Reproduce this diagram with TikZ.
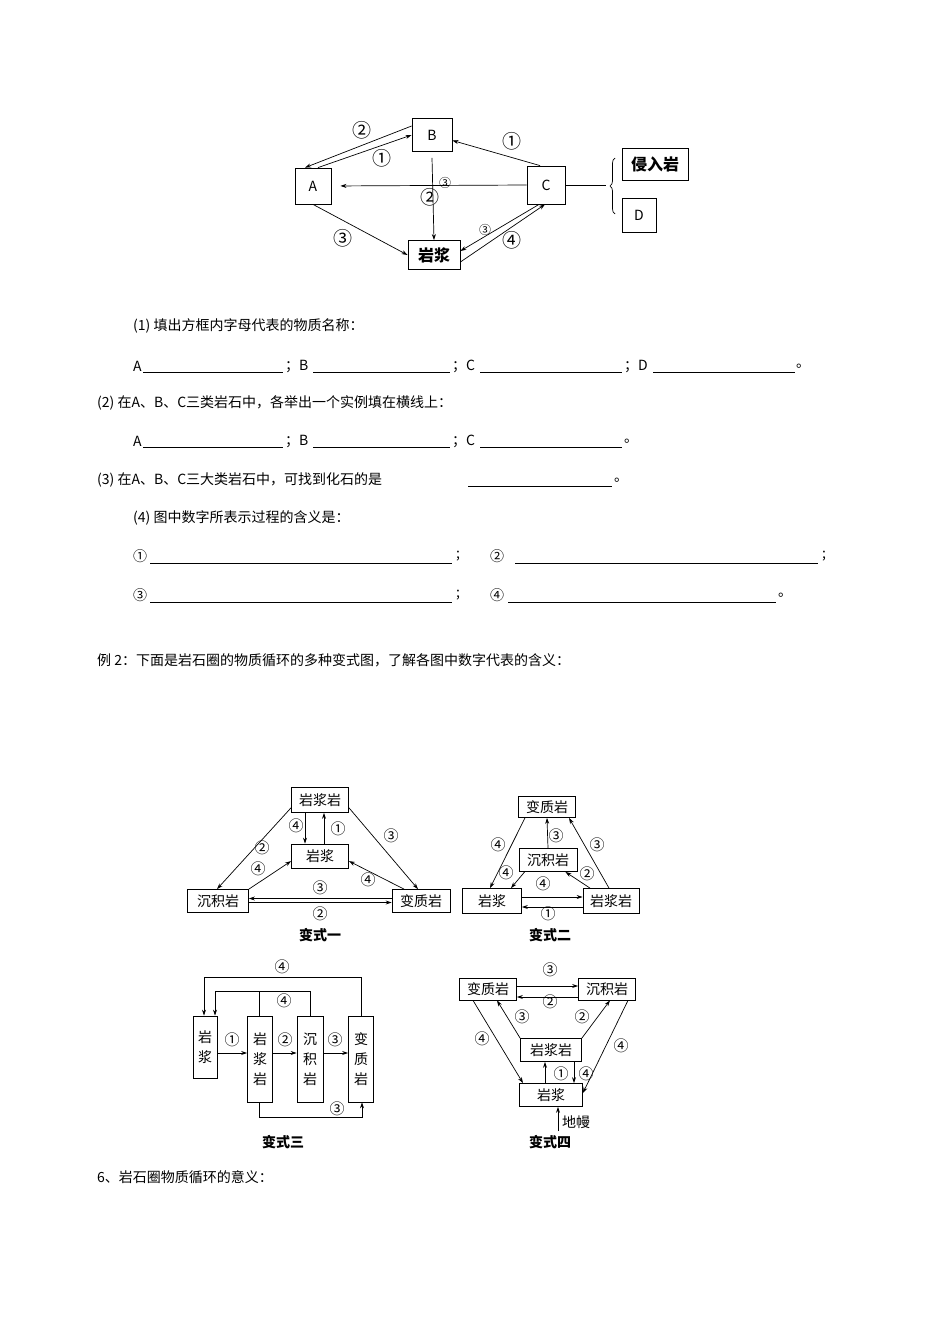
\documentclass[tikz,border=0pt]{standalone}
\usepackage{fontspec}
\setmainfont{Noto Sans CJK SC}
\usetikzlibrary{arrows.meta,decorations.pathreplacing}
\begin{document}
\begin{tikzpicture}[x=1pt,y=-1pt,
  box/.style={draw,line width=0.8pt,inner sep=0pt,font=\fontsize{14}{14}\selectfont},
  arr/.style={-{Stealth[length=6pt,width=4pt]},line width=0.7pt},
  lbl/.style={inner sep=0pt,font=\fontsize{15}{15}\selectfont},
  txt/.style={anchor=west,inner sep=0pt,font=\fontsize{14}{14}\selectfont},
  ul/.style={line width=0.6pt}]
\useasboundingbox (0,0) rectangle (950,1317);
% ---------- top diagram
\node[box,minimum width=40,minimum height=33] (B) at (432,135) {B};
\node[box,minimum width=36,minimum height=36] (A) at (313,186) {A};
\node[box,minimum width=38,minimum height=38] (C) at (546,185) {C};
\node[box,minimum width=52,minimum height=29,font=\fontsize{16}{16}\selectfont\bfseries] (M) at (434,255) {岩浆};
\node[box,minimum width=66,minimum height=32,font=\fontsize{16}{16}\selectfont\bfseries] (Q) at (655,164) {侵入岩};
\node[box,minimum width=34,minimum height=34] (D) at (639,215) {D};
\coordinate (br) at (606,185);
\draw[arr] ([xshift=-6]C.north) -- (B.-15);
\draw[arr] ([yshift=9]B.west) -- ([xshift=-8]A.north);
\draw[arr] ([xshift=5]A.north) -- (B.west);
\draw[arr,shorten >=9pt] (C.west) -- (A.east);
\draw[arr] ([yshift=-6]B.south) -- (M.north);
\draw[arr] (A.south) -- (M.west);
\draw[arr] ([yshift=-7]M.east) -- ([xshift=-1]C.south);
\draw[arr] ([xshift=-7]C.south) -- ([yshift=4]M.east);
\draw[line width=0.7pt] (C.east) -- (br);
\draw[line width=0.7pt,decorate,decoration={brace,amplitude=5pt}] (615,214) -- (615,158);
\node[lbl,font=\fontsize{19}{19}\selectfont] at (362,130) {②};
\node[lbl,font=\fontsize{19}{19}\selectfont] at (382,158) {①};
\node[lbl,font=\fontsize{19}{19}\selectfont] at (512,141) {①};
\node[lbl,font=\fontsize{19}{19}\selectfont] at (430,197) {②};
\node[lbl,font=\fontsize{12}{12}\selectfont] at (445,183) {③};
\node[lbl,font=\fontsize{19}{19}\selectfont] at (343,238) {③};
\node[lbl,font=\fontsize{12}{12}\selectfont] at (485,230) {③};
\node[lbl,font=\fontsize{19}{19}\selectfont] at (512,240) {④};
% ---------- text
\node[txt] (t1) at (133,326) {(1)\ 填出方框内字母代表的物质名称：};
\node[txt] (t2) at (133,366) {A};
\draw[ul] (143,372) -- (283,372); \node[txt] at (285,366) {；B};
\draw[ul] (313,372) -- (450,372); \node[txt] at (452,366) {；C};
\draw[ul] (480,372) -- (622,372); \node[txt] at (624,366) {；D};
\draw[ul] (653,372) -- (795,372); \node[txt] at (796,366) {。};
\node[txt] at (97,403) {(2)\ 在A、B、C三类岩石中，各举出一个实例填在横线上：};
\node[txt] at (133,441) {A};
\draw[ul] (143,447) -- (283,447); \node[txt] at (285,441) {；B};
\draw[ul] (313,447) -- (450,447); \node[txt] at (452,441) {；C};
\draw[ul] (480,447) -- (622,447); \node[txt] at (624,441) {。};
\node[txt] at (97,480) {(3)\ 在A、B、C三大类岩石中，可找到化石的是};
\draw[ul] (468,486) -- (612,486); \node[txt] at (614,480) {。};
\node[txt] at (133,518) {(4)\ 图中数字所表示过程的含义是：};
\node[txt] at (133,556) {①}; \draw[ul] (150,563) -- (452,563); \node[txt] at (456,556) {;};
\node[txt] at (490,556) {②}; \draw[ul] (515,563) -- (818,563); \node[txt] at (822,556) {;};
\node[txt] at (133,595) {③}; \draw[ul] (150,602) -- (452,602); \node[txt] at (456,595) {;};
\node[txt] at (490,595) {④}; \draw[ul] (508,602) -- (776,602); \node[txt] at (778,595) {。};
\node[txt] at (97,660) {例 2：下面是岩石圈的物质循环的多种变式图，了解各图中数字代表的含义：};
\node[txt] at (97,1177) {6、岩石圈物质循环的意义：};
% ---------- 变式一
\node[box,minimum width=57,minimum height=25] (a1) at (320,800) {岩浆岩};
\node[box,minimum width=57,minimum height=24] (a2) at (320,856) {岩浆};
\node[box,minimum width=61,minimum height=23] (a3) at (218,901) {沉积岩};
\node[box,minimum width=58,minimum height=23] (a4) at (421,901) {变质岩};
\node[lbl,font=\fontsize{14}{14}\selectfont\bfseries] at (320,935) {变式一};
\draw[arr] ([xshift=-15]a1.south) -- ([xshift=-15]a2.north);
\draw[arr] ([xshift=4]a2.north) -- ([xshift=4]a1.south);
\draw[arr] (a1.-165) -- ([xshift=-1]a3.north);
\draw[arr] (a3.north east) -- (a2.-170);
\draw[arr] (a1.-15) -- ([xshift=-3]a4.north);
\draw[arr] ([xshift=-17]a4.north) -- (a2.-10);
\draw[arr] ([yshift=-1.5]a3.east) -- ([yshift=-1.5]a4.west);
\draw[arr] ([yshift=2.5]a4.west) -- ([yshift=2.5]a3.east);
\node[lbl] at (296,826) {④}; \node[lbl] at (338,829) {①};
\node[lbl] at (262,848) {②}; \node[lbl] at (258,869) {④};
\node[lbl] at (391,836) {③}; \node[lbl] at (368,880) {④};
\node[lbl] at (320,888) {③}; \node[lbl] at (320,914) {②};
% ---------- 变式二
\node[box,minimum width=57,minimum height=21] (b1) at (547,807) {变质岩};
\node[box,minimum width=58,minimum height=23] (b2) at (548,860) {沉积岩};
\node[box,minimum width=59,minimum height=25] (b3) at (492,901) {岩浆};
\node[box,minimum width=56,minimum height=25] (b4) at (611,901) {岩浆岩};
\node[lbl,font=\fontsize{14}{14}\selectfont\bfseries] at (550,935) {变式二};
\draw[arr] (b2.north) -- (b1.south);
\draw[arr] ([xshift=-22]b1.south) -- ([xshift=-2]b3.north);
\draw[arr] ([xshift=-2]b4.north) -- ([xshift=22]b1.south);
\draw[arr] ([xshift=6]b2.south west) -- ([xshift=19]b3.north);
\draw[arr] ([xshift=-21]b4.north) -- ([xshift=-12]b2.south east);
\draw[arr] ([yshift=-6]b4.west) -- ([yshift=-6]b3.east);
\draw[arr] ([yshift=4]b3.east) -- ([yshift=4]b4.west);
\node[lbl] at (556,836) {③}; \node[lbl] at (498,845) {④};
\node[lbl] at (597,845) {③}; \node[lbl] at (506,873) {④};
\node[lbl] at (587,874) {②}; \node[lbl] at (543,884) {④};
\node[lbl] at (548,914) {①};
% ---------- 变式三
\node[box,minimum width=24,minimum height=62,align=center,font=\fontsize{14}{20}\selectfont] (c1) at (205,1047) {岩\\浆};
\node[box,minimum width=25,minimum height=86,align=center,font=\fontsize{14}{20}\selectfont] (c2) at (260,1059) {岩\\浆\\岩};
\node[box,minimum width=26,minimum height=86,align=center,font=\fontsize{14}{20}\selectfont] (c3) at (310,1059) {沉\\积\\岩};
\node[box,minimum width=25,minimum height=86,align=center,font=\fontsize{14}{20}\selectfont] (c4) at (361,1059) {变\\质\\岩};
\node[lbl,font=\fontsize{14}{14}\selectfont\bfseries] at (283,1142) {变式三};
\draw[arr] (c1.east |- 0,1053) -- (c2.west |- 0,1053);
\draw[arr] (c2.east |- 0,1053) -- (c3.west |- 0,1053);
\draw[arr] (c3.east |- 0,1053) -- (c4.west |- 0,1053);
\draw[arr] (c4.north) |- (204,977) -- ([xshift=-1]c1.north);
\draw[line width=0.7pt] ([xshift=-1]c2.north) |- (310,991) -- (c3.north);
\draw[arr] (259,991) -- (215,991) -- ([xshift=10]c1.north);
\draw[arr] ([xshift=-1]c2.south) |- (362,1117) -- ([xshift=1]c4.south);
\node[lbl] at (232,1040) {①}; \node[lbl] at (285,1040) {②};
\node[lbl] at (335,1040) {③}; \node[lbl] at (282,967) {④};
\node[lbl] at (284,1001) {④}; \node[lbl] at (337,1109) {③};
% ---------- 变式四
\node[box,minimum width=57,minimum height=22] (d1) at (488,989) {变质岩};
\node[box,minimum width=57,minimum height=22] (d2) at (607,989) {沉积岩};
\node[box,minimum width=61,minimum height=23] (d3) at (551,1050) {岩浆岩};
\node[box,minimum width=63,minimum height=23] (d4) at (551,1095) {岩浆};
\node[lbl,font=\fontsize{14}{14}\selectfont\bfseries] at (550,1142) {变式四};
\draw[arr] ([yshift=-8]d2.west) -- ([yshift=-8]d1.east);
\draw[arr] ([yshift=3]d1.east) -- ([yshift=3]d2.west);
\draw[arr] (d3.north west) -- ([xshift=9]d1.south);
\draw[arr] (d3.north east) -- ([xshift=3]d2.south);
\draw[arr] ([xshift=-15]d1.south) -- ([xshift=-28]d4.north);
\draw[arr] ([xshift=21]d2.south) -- ([yshift=2]d4.east);
\draw[arr] ([xshift=-6]d4.north) -- ([xshift=-6]d3.south);
\draw[arr] ([xshift=23]d3.south) -- ([xshift=23]d4.north);
\coordinate (mantle) at (558,1131);
\draw[arr] (mantle) -- ([xshift=7]d4.south);
\node[lbl,anchor=west,font=\fontsize{14}{14}\selectfont] at (562,1122) {地幔};
\node[lbl] at (550,970) {③}; \node[lbl] at (550,1002) {②};
\node[lbl] at (522,1017) {③}; \node[lbl] at (582,1017) {②};
\node[lbl] at (482,1039) {④}; \node[lbl] at (621,1046) {④};
\node[lbl] at (561,1074) {①}; \node[lbl] at (586,1074) {④};
\end{tikzpicture}
\end{document}
